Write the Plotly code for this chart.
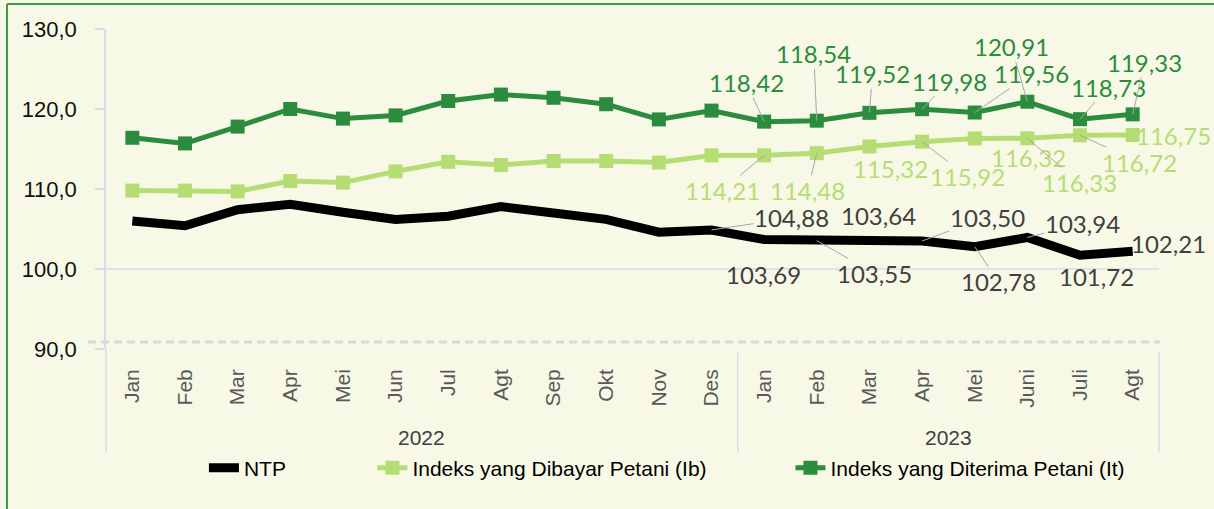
"""NTP, Ib and It line chart (Jan 2022 - Agt 2023)."""

import plotly.graph_objects as go

months_2022 = ["Jan", "Feb", "Mar", "Apr", "Mei", "Jun", "Jul", "Agt", "Sep", "Okt", "Nov", "Des"]
months_2023 = ["Jan", "Feb", "Mar", "Apr", "Mei", "Juni", "Juli", "Agt"]
years = ["2022", "2023"]

ntp = [106.0, 105.4, 107.4, 108.1, 107.1, 106.2, 106.6, 107.8, 107.0, 106.2, 104.6, 104.88,
       103.69, 103.55, 103.64, 103.50, 102.78, 103.94, 101.72, 102.21]
ib = [109.8, 109.8, 109.7, 111.0, 110.8, 112.2, 113.4, 113.0, 113.5, 113.5, 113.3, 114.2,
      114.21, 114.48, 115.32, 115.92, 116.32, 116.33, 116.72, 116.75]
it = [116.4, 115.7, 117.8, 120.0, 118.8, 119.2, 121.0, 121.8, 121.4, 120.6, 118.7, 119.8,
      118.42, 118.54, 119.52, 119.98, 119.56, 120.91, 118.73, 119.33]

y_ticks = [90, 100, 110, 120, 130]

# label placement: index -> (dx px, dy px, leader line)
ntp_labels = {11: (80, -12, True), 12: (-1, 35, False), 13: (58, 33, True), 14: (9, -24, False),
              15: (65, -24, True), 16: (24, 35, True), 17: (55, -14, True), 18: (16, 21, False),
              19: (36, -8, False)}
ib_labels = {12: (-42, 35, True), 13: (-9, 37, True), 14: (21, 22, False), 15: (45, 35, True),
             16: (54, 19, False), 17: (52, 44, True), 18: (59, 27, True), 19: (41, 0, False)}
it_labels = {12: (-18, -39, True), 13: (-3, -67, True), 14: (3, -39, True), 15: (27, -28, True),
             16: (57, -39, True), 17: (-16, -55, True), 18: (28, -32, True), 19: (12, -52, True)}

BG = "#F7F9E6"
DARK = "#2A8C3C"
LIGHT = "#B5DD73"
AXIS = "#D6DCE5"
NARROW = "Liberation Sans Narrow, Arial Narrow, Liberation Sans, Arial, sans-serif"
LABEL_FONT = "Lato, Calibri, sans-serif"

periods = [f"{m} {years[0]}" for m in months_2022] + [f"{m} {years[1]}" for m in months_2023]
months = months_2022 + months_2023

fig = go.Figure()

fig.add_trace(go.Scatter(
    x=periods, y=ntp, name="NTP", mode="lines",
    line=dict(color="black", width=9), legend="legend",
))
fig.add_trace(go.Scatter(
    x=periods, y=ib, name="Indeks yang Dibayar Petani (Ib)", mode="lines+markers",
    line=dict(color=LIGHT, width=5), marker=dict(symbol="square", size=14, color=LIGHT),
    legend="legend2",
))
fig.add_trace(go.Scatter(
    x=periods, y=it, name="Indeks yang Diterima Petani (It)", mode="lines+markers",
    line=dict(color=DARK, width=5), marker=dict(symbol="square", size=14, color=DARK),
    legend="legend3",
))


def fmt(v):
    return f"{v:.2f}".replace(".", ",")


annotations = []
for values, placement, color in [(ntp, ntp_labels, "#404040"),
                                 (ib, ib_labels, LIGHT),
                                 (it, it_labels, DARK)]:
    for i, (dx, dy, leader) in placement.items():
        annotations.append(dict(
            x=periods[i], y=values[i], xref="x", yref="y",
            text=fmt(values[i]), showarrow=True, arrowhead=0, standoff=0,
            arrowwidth=1, arrowcolor="#A6A6A6" if leader else "rgba(0,0,0,0)",
            ax=dx, ay=dy, borderpad=0,
            font=dict(family=LABEL_FONT, size=24, color=color),
        ))

# year group labels
n_total = len(periods)
start = 0
for year, group in zip(years, [months_2022, months_2023]):
    annotations.append(dict(
        x=(start + len(group) / 2) / n_total, y=-0.275, xref="paper", yref="paper",
        xanchor="center", yanchor="middle", text=year, showarrow=False,
        font=dict(family=NARROW, size=21, color="#404040"),
    ))
    start += len(group)

split = len(months_2022) / n_total
shapes = [
    # category axis line at 100
    dict(type="line", xref="paper", yref="y", x0=0, x1=1, y0=100, y1=100,
         line=dict(color=AXIS, width=1.5), layer="below"),
    # dashed break line
    dict(type="line", xref="paper", yref="y", x0=-0.017, x1=1.001, y0=90.88, y1=90.88,
         line=dict(color="#D9D9D9", width=3, dash="8px,5px"), layer="below"),
    # group dividers
    dict(type="line", xref="paper", yref="paper", x0=0, x1=0, y0=0, y1=-0.322,
         line=dict(color=AXIS, width=1.5)),
    dict(type="line", xref="paper", yref="paper", x0=split, x1=split, y0=-0.01, y1=-0.322,
         line=dict(color=AXIS, width=1.5)),
    dict(type="line", xref="paper", yref="paper", x0=1, x1=1, y0=-0.01, y1=-0.322,
         line=dict(color=AXIS, width=1.5)),
    # outer green frame
    dict(type="line", xref="paper", yref="paper", x0=-0.094, x1=1.1, y0=1.078, y1=1.078,
         line=dict(color="#3C9A48", width=2)),
    dict(type="line", xref="paper", yref="paper", x0=-0.094, x1=-0.094, y0=1.078, y1=-0.6,
         line=dict(color="#3C9A48", width=2)),
]

legend_common = dict(
    orientation="h", yanchor="middle", y=-0.372, xanchor="left",
    bgcolor="rgba(0,0,0,0)", font=dict(family=NARROW, size=21, color="black"),
)

fig.update_layout(
    width=1214, height=509,
    margin=dict(l=106, r=55, t=29, b=160, autoexpand=False),
    paper_bgcolor=BG, plot_bgcolor=BG,
    separators=", ",
    showlegend=True,
    legend=dict(x=0.093, **legend_common),
    legend2=dict(x=0.253, **legend_common),
    legend3=dict(x=0.650, **legend_common),
    xaxis=dict(
        type="category", range=[-0.5, len(periods) - 0.5],
        tickvals=periods, ticktext=months, tickangle=-90,
        showgrid=False, showline=False, zeroline=False, ticks="",
        tickfont=dict(family=NARROW, size=21, color="#595959"),
        ticklabelstandoff=15,
    ),
    yaxis=dict(
        range=[90, 130], tickvals=y_ticks, tickformat=".1f",
        showgrid=False, zeroline=False, showline=True, linecolor=AXIS, linewidth=1.5,
        ticks="outside", ticklen=9, tickcolor=AXIS, tickwidth=1.5,
        tickfont=dict(family=NARROW, size=22, color="#111111"),
        ticklabelstandoff=14,
    ),
    annotations=annotations,
    shapes=shapes,
    hovermode=False,
)

# the page has a default 8px body margin; drop it so the figure fills the window
fig.write_html(
    "out.html",
    config={"displayModeBar": False},
    post_script="document.body.style.margin = '0';",
)
